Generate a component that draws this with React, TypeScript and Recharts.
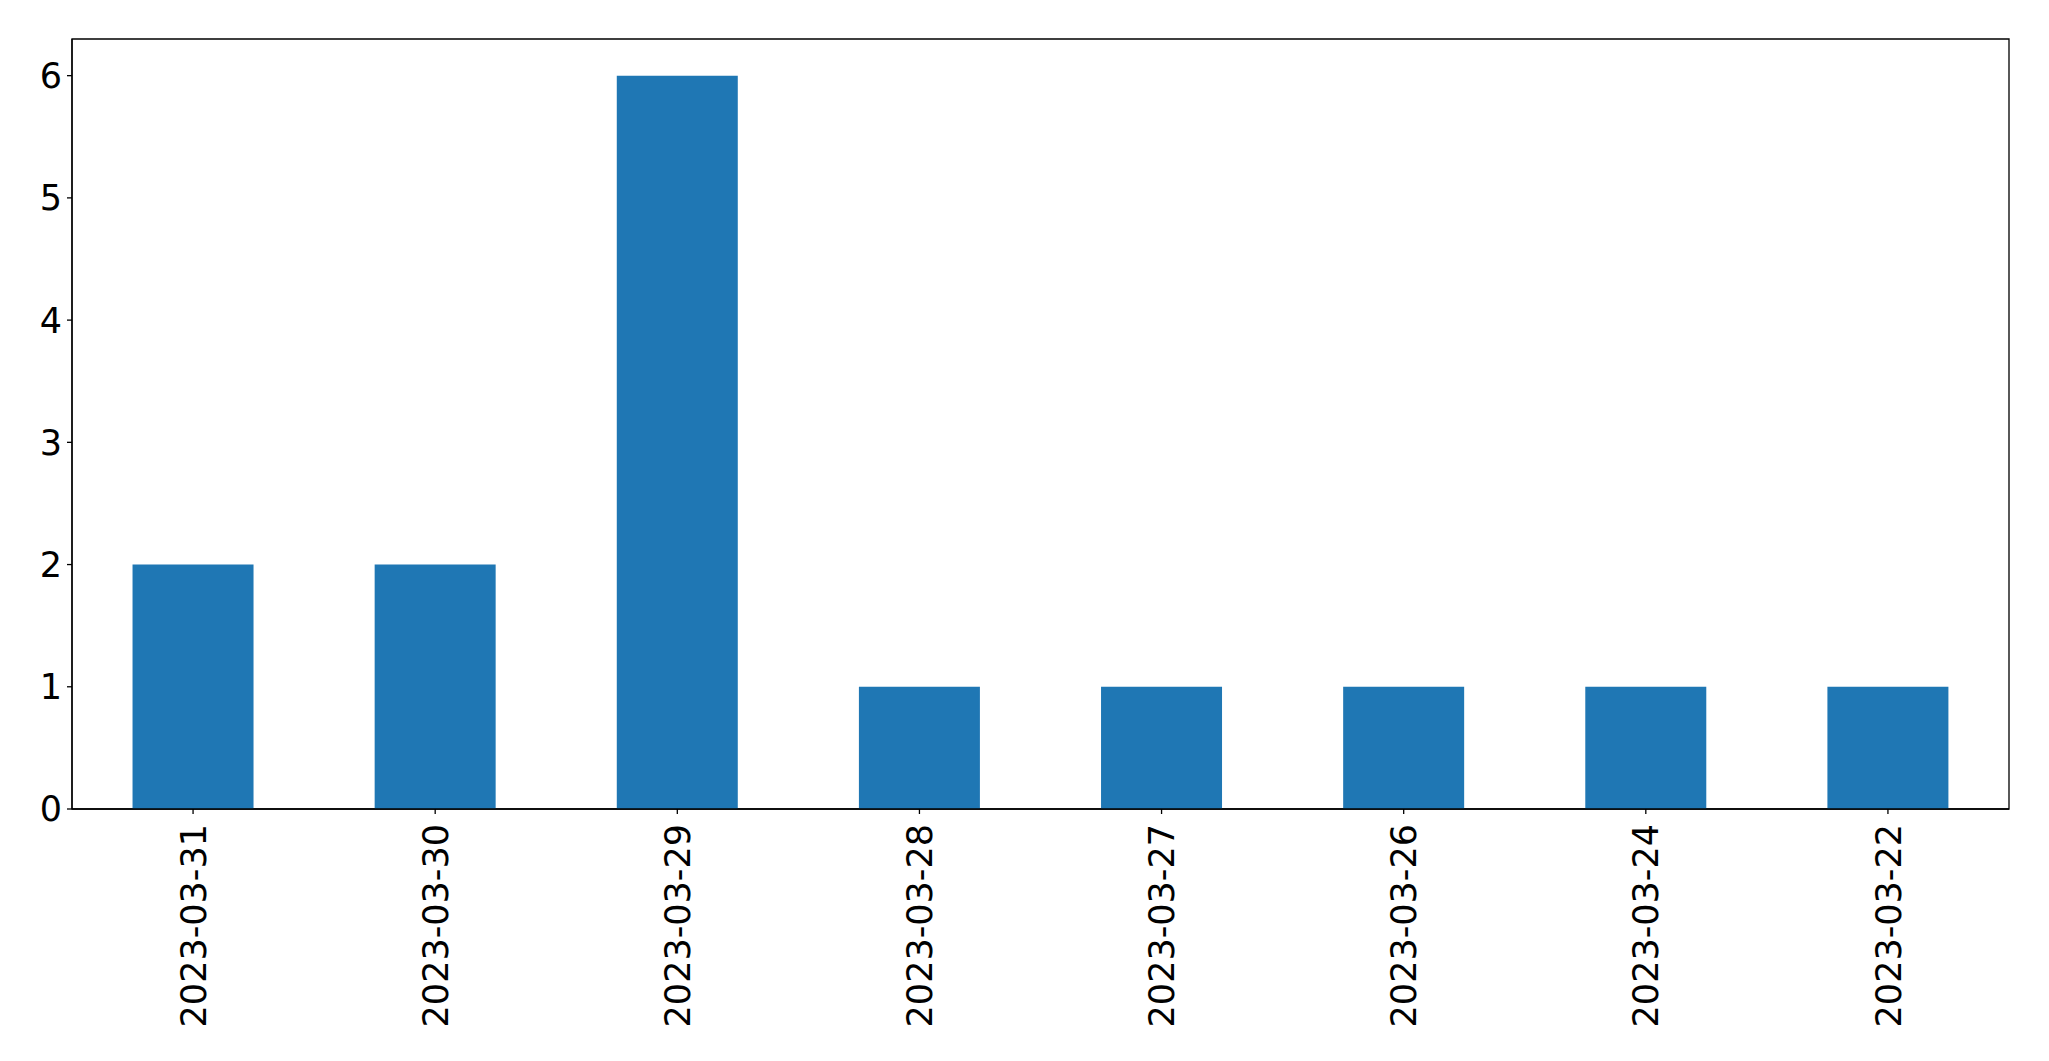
import React from "react";
import { Bar, BarChart, ReferenceArea, XAxis, YAxis } from "recharts";

const dates = [
  "2023-03-31",
  "2023-03-30",
  "2023-03-29",
  "2023-03-28",
  "2023-03-27",
  "2023-03-26",
  "2023-03-24",
  "2023-03-22",
];
const counts = [2, 2, 6, 1, 1, 1, 1, 1];
const yTicks = [0, 1, 2, 3, 4, 5, 6];
const yMax = 6.3;

const data = dates.map((date, i) => ({ date, count: counts[i] }));

const FONT = "'DejaVu Sans', sans-serif";

const DateTick = (props: any) => {
  const { x, y, payload } = props;
  return (
    <g transform={`translate(${x},${y})`}>
      <text
        transform="rotate(-90)"
        x={-10}
        y={0}
        dy="0.36em"
        textAnchor="end"
        fontSize={35}
        fontFamily={FONT}
        fill="#000"
      >
        {payload.value}
      </text>
    </g>
  );
};

export default function App() {
  return (
    <div style={{ margin: -8, width: 2049, height: 1061, background: "#fff" }}>
      <BarChart
        width={2049}
        height={1061}
        data={data}
        margin={{ top: 39, right: 40, bottom: 0, left: 0 }}
        barCategoryGap="25%"
      >
        <XAxis
          dataKey="date"
          height={252}
          interval={0}
          tick={<DateTick />}
          tickLine={{ stroke: "#000", strokeWidth: 1.3 }}
          tickSize={5}
          tickMargin={0}
          axisLine={{ stroke: "#000", strokeWidth: 1.3 }}
        />
        <YAxis
          width={72}
          domain={[0, yMax]}
          ticks={yTicks}
          interval={0}
          tickSize={5}
          tickMargin={5}
          tickLine={{ stroke: "#000", strokeWidth: 1.3 }}
          axisLine={{ stroke: "#000", strokeWidth: 1.3 }}
          tick={{ fontSize: 35, fill: "#000", fontFamily: FONT }}
        />
        <Bar dataKey="count" fill="#1f77b4" isAnimationActive={false} />
        {/* plot frame, like the matplotlib spines */}
        <ReferenceArea
          y1={0}
          y2={yMax}
          fill="none"
          fillOpacity={0}
          stroke="#000"
          strokeWidth={1.3}
        />
      </BarChart>
    </div>
  );
}
